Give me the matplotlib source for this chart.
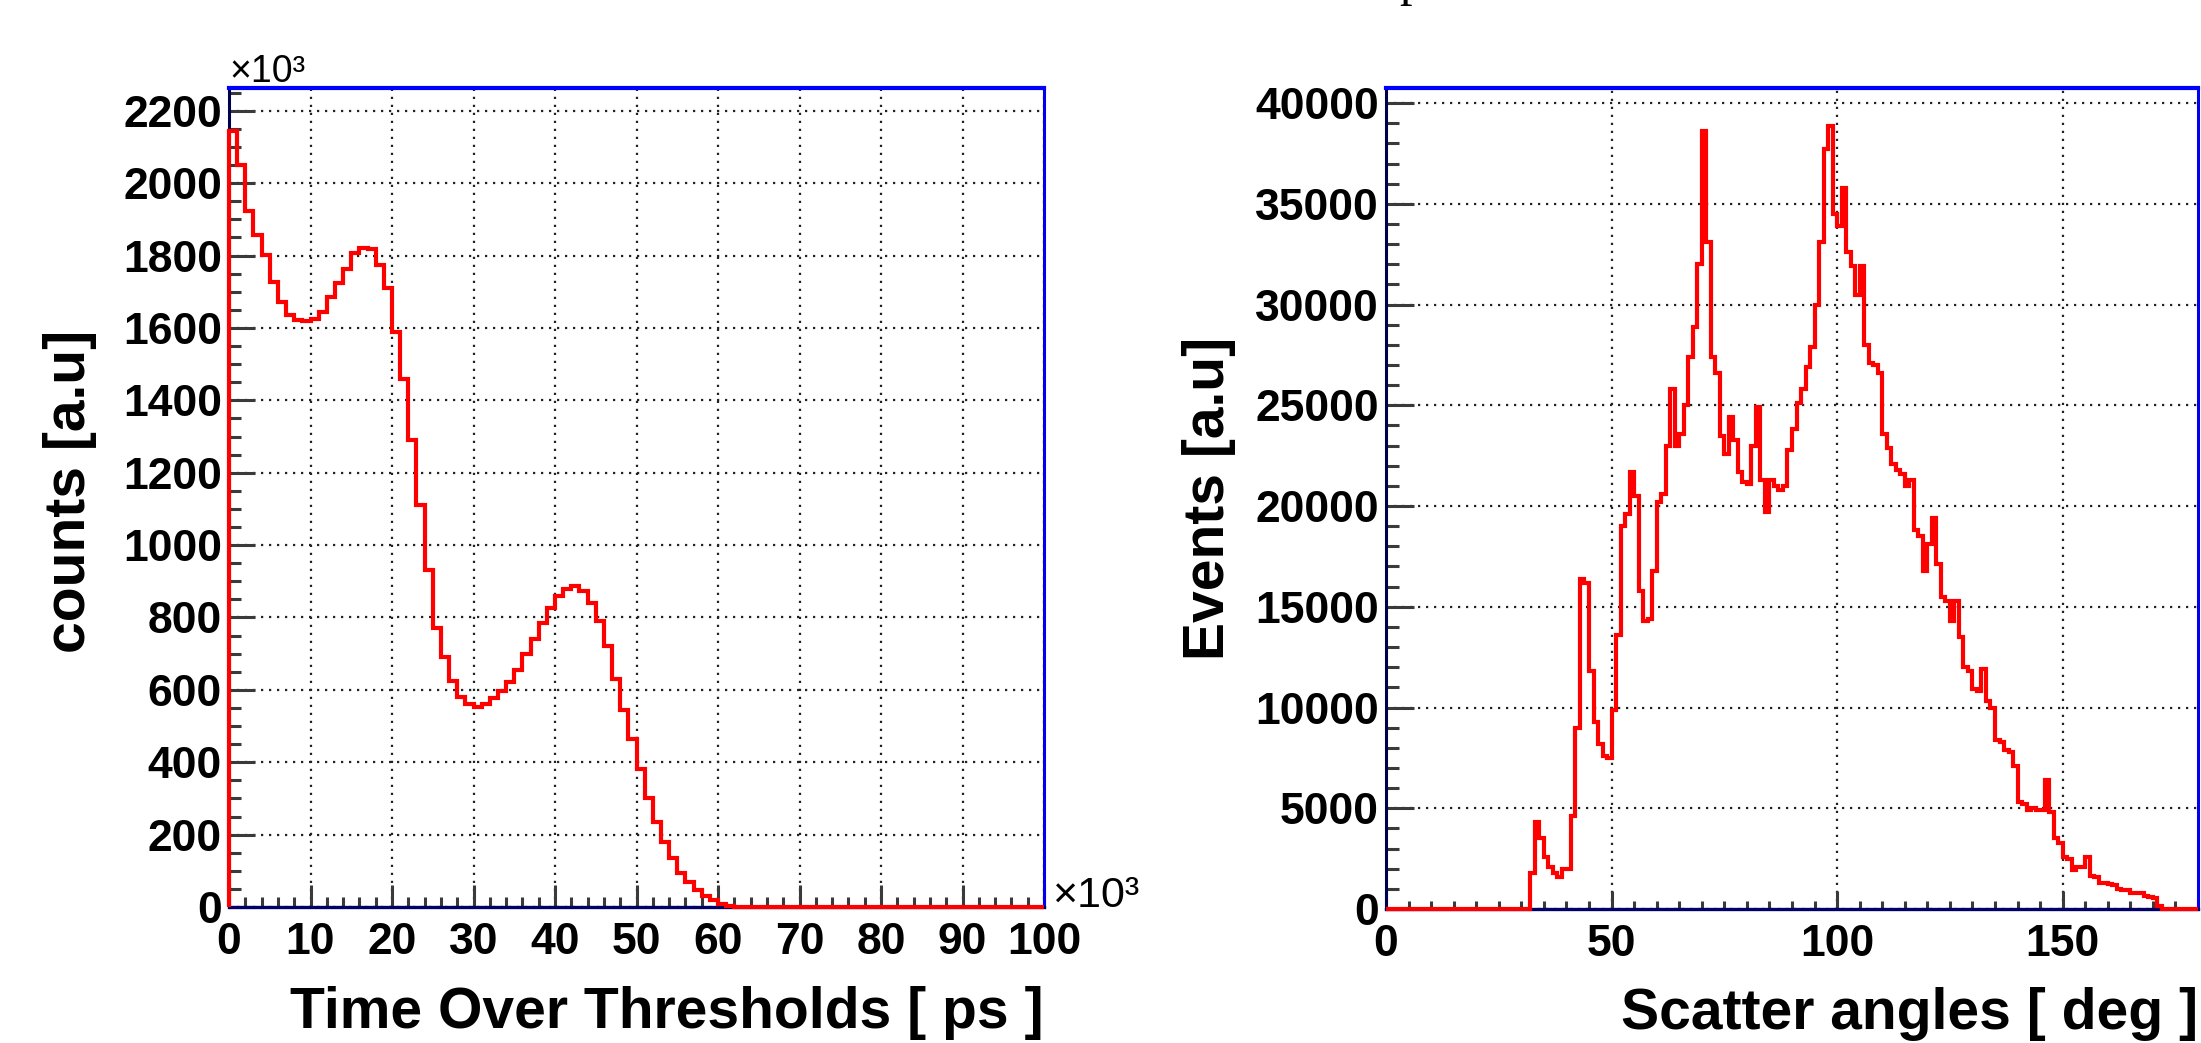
import numpy as np
import matplotlib
matplotlib.use("Agg")
import matplotlib.pyplot as plt
from matplotlib.ticker import MultipleLocator

plt.rcParams['font.family'] = ['Liberation Sans', 'DejaVu Sans']

# time over threshold spectrum: 1 bin = 1 (x10^3 ps), counts in x10^3
tot_edges = np.arange(0, 101, 1)
tot_counts = [
    2143, 2051, 1922, 1857, 1802, 1728, 1673, 1636, 1622, 1620,
    1625, 1643, 1685, 1725, 1762, 1808, 1822, 1818, 1775, 1710,
    1590, 1460, 1290, 1110, 930, 770, 690, 625, 580, 560,
    553, 560, 578, 597, 622, 655, 700, 740, 785, 825,
    858, 880, 888, 872, 840, 790, 720, 630, 545, 465,
    380, 300, 235, 180, 135, 95, 70, 48, 30, 18,
    8, 3, 1, 0, 0, 0, 0, 0, 0, 0,
    0, 0, 0, 0, 0, 0, 0, 0, 0, 0,
    0, 0, 0, 0, 0, 0, 0, 0, 0, 0,
    0, 0, 0, 0, 0, 0, 0, 0, 0, 0,
]

# scatter angle distribution, 1 deg bins
angle_edges = np.arange(0, 181, 1)
angle_events = [
    0, 0, 0, 0, 0, 0, 0, 0, 0, 0,
    0, 0, 0, 0, 0, 0, 0, 0, 0, 0,
    0, 0, 0, 0, 0, 0, 0, 0, 0, 0,
    0, 0, 1800, 4300, 3500, 2600, 2100, 1800, 1600, 2000,
    2000, 4600, 9000, 16400, 16200, 11800, 9300, 8200, 7600, 7500,
    9900, 13600, 19000, 19600, 21700, 20500, 15800, 14300, 14400, 16800,
    20200, 20600, 23000, 25800, 23000, 23600, 25000, 27400, 28900, 32000,
    38600, 33100, 27400, 26600, 23500, 22600, 24400, 23300, 21700, 21200,
    21100, 23000, 24900, 21300, 19700, 21300, 21000, 20800, 21000, 22800,
    23800, 25100, 25800, 26900, 27900, 30000, 33100, 37700, 38850, 34500,
    33900, 35800, 32600, 31900, 30500, 31900, 28000, 27100, 27000, 26600,
    23600, 22900, 22100, 21800, 21600, 21000, 21300, 18800, 18500, 16800,
    18100, 19400, 17100, 15500, 15300, 14300, 15300, 13500, 12000, 11800,
    10900, 10800, 11900, 10300, 10000, 8400, 8300, 7900, 7800, 7100,
    5300, 5200, 4900, 5000, 4900, 4900, 6400, 4800, 3500, 3300,
    2600, 2500, 1950, 2100, 2100, 2600, 1650, 1600, 1300, 1300,
    1250, 1200, 1000, 950, 950, 800, 800, 780, 650, 600,
    550, 150, 0, 0, 0, 0, 0, 0, 0, 0,
]

W, H = 2201, 1043
fig = plt.figure(figsize=(W / 100, H / 100), dpi=100)


def px_axes(x0, x1, ytop, ybot):
    return fig.add_axes([x0 / W, 1 - ybot / H, (x1 - x0) / W, (ybot - ytop) / H])


def root_style(ax, ymaj_len, xmaj_len):
    ax.spines['top'].set_color('#0000ff')
    ax.spines['top'].set_linewidth(3.0)
    ax.spines['right'].set_color('#0000ee')
    ax.spines['right'].set_linewidth(2.2)
    ax.spines['left'].set_color('#00004d')
    ax.spines['left'].set_linewidth(2.2)
    ax.spines['bottom'].set_color('#000066')
    ax.spines['bottom'].set_linewidth(2.4)
    ax.grid(True, which='major', color='#222222', linestyle=(0, (1, 2.6)), linewidth=1.6)
    ax.tick_params(which='both', direction='in', top=False, right=False,
                   color='#3a3a3a', width=2.2, labelsize=32)
    ax.tick_params(axis='y', which='major', length=ymaj_len, pad=5)
    ax.tick_params(axis='y', which='minor', length=ymaj_len * 0.45)
    ax.tick_params(axis='x', which='major', length=xmaj_len, pad=11)
    ax.tick_params(axis='x', which='minor', length=xmaj_len * 0.45)
    for lab in ax.get_xticklabels() + ax.get_yticklabels():
        lab.set_fontweight('bold')


# left: time over thresholds
ax1 = px_axes(229, 1044, 88, 907)
ax1.stairs(tot_counts, tot_edges, baseline=0, color='#ff0000', linewidth=3.0,
           zorder=3, clip_on=False)
ax1.set_xlim(0, 100)
ax1.set_ylim(0, 2263)
ax1.xaxis.set_major_locator(MultipleLocator(10))
ax1.xaxis.set_minor_locator(MultipleLocator(2))
ax1.yaxis.set_major_locator(MultipleLocator(200))
ax1.yaxis.set_minor_locator(MultipleLocator(50))
root_style(ax1, 19, 16)
ax1.set_xlabel('Time Over Thresholds [ ps ]', fontsize=41, fontweight='bold', ha='right')
ax1.xaxis.set_label_coords(1.0, -0.0965)
ax1.set_ylabel('counts [a.u]', fontsize=41, fontweight='bold')
ax1.yaxis.set_label_coords(-0.162, 0.507)
ax1.text(0, 1 + 6 / 819, '×10³', transform=ax1.transAxes, fontsize=27,
         ha='left', va='baseline')
ax1.text(1 + 8 / 815, 0, '×10³', transform=ax1.transAxes, fontsize=31,
         ha='left', va='baseline')

# right: scatter angles
ax2 = px_axes(1386, 2198, 88, 909)
ax2.stairs(angle_events, angle_edges, baseline=0, color='#ff0000', linewidth=3.0,
           zorder=3, clip_on=False)
ax2.set_xlim(0, 180)
ax2.set_ylim(0, 40750)
ax2.xaxis.set_major_locator(MultipleLocator(50))
ax2.xaxis.set_minor_locator(MultipleLocator(5))
ax2.yaxis.set_major_locator(MultipleLocator(5000))
ax2.yaxis.set_minor_locator(MultipleLocator(1000))
root_style(ax2, 20, 13)
ax2.set_xlabel('Scatter angles [ deg ]', fontsize=41, fontweight='bold', ha='right')
ax2.xaxis.set_label_coords(1.0, -0.095)
ax2.set_ylabel('Events [a.u]', fontsize=41, fontweight='bold')
ax2.yaxis.set_label_coords(-0.185, 0.5)

# caption line sitting just above the figure
fig.text(1412 / W, 1 + 5 / H, 'p', family='Liberation Serif', fontsize=36,
         ha='center', va='baseline')

fig.savefig('out.png', dpi=100)
